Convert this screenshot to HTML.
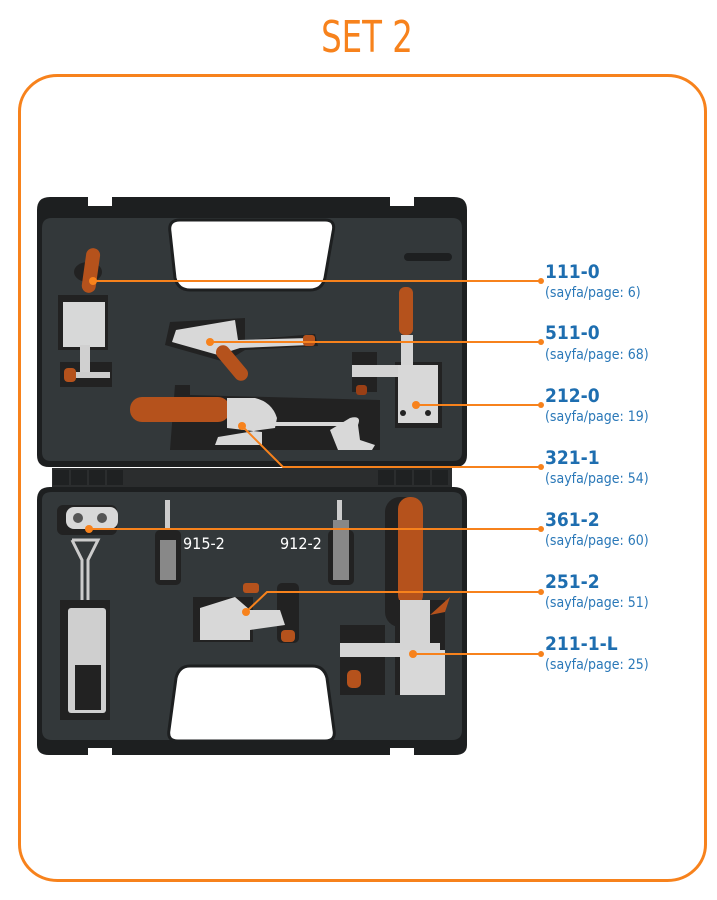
<!DOCTYPE html>
<html><head><meta charset="utf-8"><style>
html,body{margin:0;padding:0;background:#fff;}
body{width:717px;height:900px;overflow:hidden;}
svg{display:block;}
.code{font-family:"DejaVu Sans Condensed","Liberation Sans Narrow","Liberation Sans",sans-serif;font-weight:bold;fill:#1e6eb0;font-size:19px;}
.pg{font-family:"DejaVu Sans Condensed","Liberation Sans Narrow","Liberation Sans",sans-serif;fill:#2a78b8;font-size:14px;}
</style></head><body>
<svg width="717" height="900" viewBox="0 0 717 900" xmlns="http://www.w3.org/2000/svg">
<text x="367" y="52" text-anchor="middle" font-family="'DejaVu Sans Condensed','Liberation Sans Narrow',sans-serif" font-size="44" fill="#f7821c" transform="translate(367 0) scale(0.82 1) translate(-367 0)">SET 2</text>
<rect x="19.5" y="75.5" width="686" height="805" rx="38" ry="36" fill="none" stroke="#f7821c" stroke-width="3"/>

<!-- hinge -->
<rect x="52" y="468" width="400" height="19" fill="#2b2d2e"/>
<g fill="#1f2122"><rect x="53" y="470" width="16" height="15"/><rect x="71" y="470" width="16" height="15"/><rect x="89" y="470" width="16" height="15"/><rect x="107" y="470" width="16" height="15"/>
<rect x="378" y="470" width="16" height="15"/><rect x="396" y="470" width="16" height="15"/><rect x="414" y="470" width="16" height="15"/><rect x="432" y="470" width="16" height="15"/></g>

<!-- top case -->
<path d="M37 210 Q37 197 50 197 L88 197 L88 206 L112 206 L112 197 L390 197 L390 206 L414 206 L414 197 L454 197 Q467 197 467 210 L467 455 Q467 467 455 467 L49 467 Q37 467 37 455 Z" fill="#1d1f20"/>
<path d="M42 228 Q42 218 52 218 L452 218 Q462 218 462 228 L462 452 Q462 461 453 461 L51 461 Q42 461 42 452 Z" fill="#33383a"/>
<path d="M180 220 L325 220 Q336 220 333 232 L325 278 Q322 290 310 290 L190 290 Q178 290 175 278 L170 232 Q168 220 180 220 Z" fill="#fff" stroke="#1d1f20" stroke-width="3"/>
<rect x="404" y="253" width="48" height="8" rx="4" fill="#1d1f20"/>

<!-- 111-0 -->
<ellipse cx="88" cy="272" rx="14" ry="10" fill="#222"/>
<rect x="58" y="295" width="50" height="55" fill="#222"/>
<rect x="60" y="362" width="52" height="25" fill="#222"/>
<rect x="84" y="248" width="14" height="45" rx="7" fill="#b5521c" transform="rotate(8 91 270)"/>
<rect x="63" y="302" width="42" height="45" fill="#d7d8d8"/>
<rect x="80" y="345" width="10" height="30" fill="#d0d0d0"/>
<rect x="65" y="372" width="45" height="6" fill="#ccc"/>
<rect x="64" y="368" width="12" height="14" rx="4" fill="#b5521c"/>

<!-- 511-0 -->
<path d="M170 322 L245 318 L245 340 L315 334 L318 346 L245 350 L225 362 L165 345 Z" fill="#222"/>
<path d="M176 330 L235 320 L238 340 L310 338 L310 345 L240 348 L218 355 L172 342 Z" fill="#d8d8d8"/>
<rect x="303" y="335" width="12" height="11" rx="3" fill="#b5521c"/>
<rect x="225" y="342" width="14" height="42" rx="7" fill="#b5521c" transform="rotate(-40 232 363)"/>

<!-- 212-0 -->
<rect x="352" y="352" width="25" height="40" fill="#222"/>
<rect x="395" y="362" width="47" height="66" fill="#222"/>
<rect x="399" y="287" width="14" height="48" rx="6" fill="#b5521c"/>
<rect x="401" y="335" width="12" height="35" fill="#d5d5d5"/>
<rect x="352" y="365" width="55" height="12" fill="#d3d3d3"/>
<rect x="398" y="365" width="40" height="58" fill="#d8d8d8"/>
<circle cx="403" cy="413" r="3" fill="#222"/><circle cx="428" cy="413" r="3" fill="#222"/>
<rect x="356" y="385" width="11" height="10" rx="3" fill="#9a3f15"/>

<!-- 321-1 -->
<path d="M175 385 L190 385 L190 395 L380 400 L380 450 L170 450 Z" fill="#222"/>
<rect x="130" y="397" width="100" height="25" rx="12" fill="#b5521c"/>
<path d="M227 398 L255 398 Q272 402 277 418 L275 428 L260 430 L218 437 L215 445 L262 445 L262 432 L227 428 Z" fill="#d8d8d8"/>
<rect x="230" y="422" width="125" height="4" fill="#d8d8d8"/>
<path d="M330 430 L350 418 Q362 415 358 425 L360 440 L375 445 L372 450 L338 450 Z" fill="#d8d8d8"/>

<!-- bottom case -->
<path d="M37 500 Q37 487 50 487 L454 487 Q467 487 467 500 L467 745 Q467 755 455 755 L414 755 L414 748 L390 748 L390 755 L112 755 L112 748 L88 748 L88 755 L49 755 Q37 755 37 745 Z" fill="#1d1f20"/>
<path d="M42 500 Q42 492 52 492 L452 492 Q462 492 462 500 L462 730 Q462 740 452 740 L52 740 Q42 740 42 730 Z" fill="#33383a"/>
<path d="M190 666 L312 666 Q324 666 327 678 L334 730 Q336 741 325 741 L178 741 Q167 741 169 730 L176 678 Q179 666 190 666 Z" fill="#fff" stroke="#1d1f20" stroke-width="3"/>

<!-- 361-2 -->
<rect x="57" y="505" width="60" height="30" rx="6" fill="#222"/>
<rect x="66" y="507" width="52" height="22" rx="8" fill="#d8d8d8"/>
<circle cx="78" cy="518" r="5" fill="#555"/><circle cx="102" cy="518" r="5" fill="#555"/>
<path d="M72 540 L98 540 L88 560 L88 620 M72 540 L82 560 L82 620" stroke="#ccc" stroke-width="3" fill="none"/>
<rect x="60" y="600" width="50" height="120" fill="#222"/>
<rect x="68" y="608" width="38" height="105" rx="3" fill="#cfcfcf"/>
<rect x="75" y="665" width="26" height="45" fill="#222"/>

<!-- pins -->
<rect x="165" y="500" width="5" height="40" fill="#ccc"/>
<rect x="155" y="530" width="26" height="55" rx="5" fill="#222"/>
<rect x="160" y="540" width="16" height="40" fill="#888"/>
<rect x="337" y="500" width="5" height="40" fill="#ccc"/>
<rect x="328" y="530" width="26" height="55" rx="5" fill="#222"/>
<rect x="333" y="520" width="16" height="60" fill="#888"/>
<text x="183" y="549" font-family="'DejaVu Sans Condensed',sans-serif" font-size="16" fill="#fff">915-2</text>
<text x="280" y="549" font-family="'DejaVu Sans Condensed',sans-serif" font-size="16" fill="#fff">912-2</text>

<!-- 251-2 -->
<rect x="193" y="597" width="60" height="45" fill="#222"/>
<rect x="277" y="583" width="22" height="60" rx="5" fill="#222"/>
<path d="M200 608 L235 597 L250 610 L280 610 L285 625 L250 630 L250 640 L200 640 Z" fill="#d8d8d8"/>
<rect x="243" y="583" width="16" height="10" rx="3" fill="#b5521c"/>
<rect x="281" y="630" width="14" height="12" rx="4" fill="#b5521c"/>

<!-- 211-1-L -->
<rect x="385" y="497" width="35" height="130" rx="15" fill="#222"/>
<rect x="398" y="497" width="25" height="110" rx="12" fill="#b5521c"/>
<rect x="340" y="625" width="45" height="70" fill="#222"/>
<rect x="395" y="600" width="50" height="95" fill="#222"/>
<rect x="400" y="600" width="30" height="50" fill="#d5d5d5"/>
<rect x="340" y="643" width="100" height="14" fill="#d5d5d5"/>
<rect x="400" y="650" width="45" height="45" fill="#d8d8d8"/>
<rect x="347" y="670" width="14" height="18" rx="5" fill="#b5521c"/>
<path d="M430 615 L450 597 L445 612 Z" fill="#b5521c"/>

<!-- connectors -->
<g stroke="#f7821c" stroke-width="2" fill="none">
<path d="M93 281 L541 281"/>
<path d="M210 342 L541 342"/>
<path d="M416 405 L541 405"/>
<path d="M242 426 L283 467 L541 467"/>
<path d="M89 529 L541 529"/>
<path d="M246 612 L267 592 L541 592"/>
<path d="M413 654 L541 654"/>
</g>
<g fill="#f7821c">
<circle cx="93" cy="281" r="4"/><circle cx="210" cy="342" r="4"/><circle cx="416" cy="405" r="4"/><circle cx="242" cy="426" r="4"/><circle cx="89" cy="529" r="4"/><circle cx="246" cy="612" r="4"/><circle cx="413" cy="654" r="4"/>
<circle cx="541" cy="281" r="3"/><circle cx="541" cy="342" r="3"/><circle cx="541" cy="405" r="3"/><circle cx="541" cy="467" r="3"/><circle cx="541" cy="529" r="3"/><circle cx="541" cy="592" r="3"/><circle cx="541" cy="654" r="3"/>
</g>

<!-- labels -->
<text class="code" x="545" y="278">111-0</text><text class="pg" x="545" y="297">(sayfa/page: 6)</text>
<text class="code" x="545" y="339">511-0</text><text class="pg" x="545" y="359">(sayfa/page: 68)</text>
<text class="code" x="545" y="402">212-0</text><text class="pg" x="545" y="421">(sayfa/page: 19)</text>
<text class="code" x="545" y="464">321-1</text><text class="pg" x="545" y="483">(sayfa/page: 54)</text>
<text class="code" x="545" y="526">361-2</text><text class="pg" x="545" y="545">(sayfa/page: 60)</text>
<text class="code" x="545" y="588">251-2</text><text class="pg" x="545" y="607">(sayfa/page: 51)</text>
<text class="code" x="545" y="650">211-1-L</text><text class="pg" x="545" y="669">(sayfa/page: 25)</text>
</svg>
</body></html>
